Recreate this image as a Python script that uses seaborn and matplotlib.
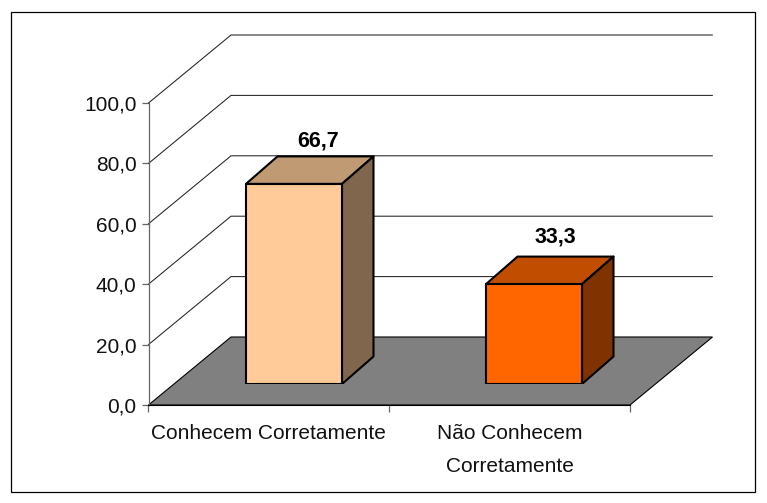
import matplotlib
matplotlib.use('Agg')
import matplotlib.pyplot as plt
import seaborn as sns
from matplotlib.patches import Polygon, Rectangle

categories = ['Conhecem Corretamente', 'Não Conhecem\nCorretamente']
values = [66.7, 33.3]
value_labels = ['66,7', '33,3']
y_ticks = [0, 20, 40, 60, 80, 100]
y_tick_labels = ['0,0', '20,0', '40,0', '60,0', '80,0', '100,0']

front_colors = ['#FFCC99', '#FF6600']
top_colors = ['#C09A72', '#C04D00']
side_colors = ['#80664C', '#803300']
label_shift = [(0, 5), (-3, 9)]

W, H = 767, 503


def px_axes(left, top, right, bottom):
    return fig.add_axes([left / W, 1 - bottom / H, (right - left) / W, (bottom - top) / H])


sns.set_style('white')
plt.rcParams['font.family'] = ['Liberation Sans', 'DejaVu Sans']

fig = plt.figure(figsize=(W / 100, H / 100), dpi=100, facecolor='white')
fig.add_artist(Rectangle((10.5 / W, 1 - 491.5 / H), 744.5 / W, 480 / H, transform=fig.transFigure,
                         fill=False, edgecolor='black', linewidth=0.9))

# front plane of the chart, holds axis + floor + walls
ax = px_axes(148.5, 103, 630, 405)
ax.set_xlim(-0.5, 1.5)
ax.set_ylim(0, 100)
ax.patch.set_alpha(0)
depth_x = 82.5 / 240.75
depth_y = 68 / 3.02

floor = Polygon([(-0.5, 0), (-0.5 + depth_x, depth_y), (1.5 + depth_x, depth_y), (1.5, 0)],
                closed=True, facecolor='#808080', edgecolor='black', linewidth=0.8,
                clip_on=False, zorder=1)
ax.add_patch(floor)
for v in y_ticks[1:]:
    ax.plot([-0.5, -0.5 + depth_x, 1.5 + depth_x], [v, v + depth_y, v + depth_y],
            color='#222222', linewidth=0.75, clip_on=False, zorder=1)

for side in ['top', 'right']:
    ax.spines[side].set_visible(False)
ax.spines['left'].set_color('#666666')
ax.spines['left'].set_linewidth(0.9)
ax.spines['bottom'].set_color('black')
ax.spines['bottom'].set_linewidth(0.8)
ax.set_yticks(y_ticks)
ax.set_yticklabels(y_tick_labels, fontsize=15, color='#111111')
ax.set_xticks([-0.5, 0.5, 1.5])
ax.set_xticklabels([])
ax.set_xticks([0, 1], labels=categories, minor=True)
ax.tick_params(axis='both', which='major', length=5, width=0.9, color='#666666', left=True, bottom=True)
ax.tick_params(axis='x', which='minor', length=0, pad=14, labelsize=15, labelcolor='#111111')
for lab in ax.get_xticklabels(minor=True):
    lab.set_linespacing(1.9)

# bars stand a bit behind the front plane
bar_ax = px_axes(174, 84, 654, 384)
sns.barplot(x=categories, y=values, hue=categories, palette=front_colors, legend=False,
            width=0.4, edgecolor='black', linewidth=1.5, saturation=1, ax=bar_ax, zorder=3)
bar_ax.set_xlim(-0.5, 1.5)
bar_ax.set_ylim(0, 100)
bar_ax.axis('off')
bar_dx = 31.5 / 240
bar_dy = 27.5 / 3.0
for i, bar in enumerate(bar_ax.patches):
    x0 = bar.get_x()
    x1 = x0 + bar.get_width()
    h = bar.get_height()
    bar_ax.add_patch(Polygon([(x0, h), (x0 + bar_dx, h + bar_dy), (x1 + bar_dx, h + bar_dy), (x1, h)],
                             closed=True, facecolor=top_colors[i], edgecolor='black',
                             linewidth=1.5, zorder=2, joinstyle='round'))
    bar_ax.add_patch(Polygon([(x1, 0), (x1 + bar_dx, bar_dy), (x1 + bar_dx, h + bar_dy), (x1, h)],
                             closed=True, facecolor=side_colors[i], edgecolor='black',
                             linewidth=1.5, zorder=2, joinstyle='round'))
    bar_ax.annotate(value_labels[i], (i + 0.1, h + bar_dy), xytext=label_shift[i], textcoords='offset pixels',
                    ha='center', va='bottom', fontsize=15.5, fontweight='bold', color='black')

fig.savefig('out.png', dpi=100)
